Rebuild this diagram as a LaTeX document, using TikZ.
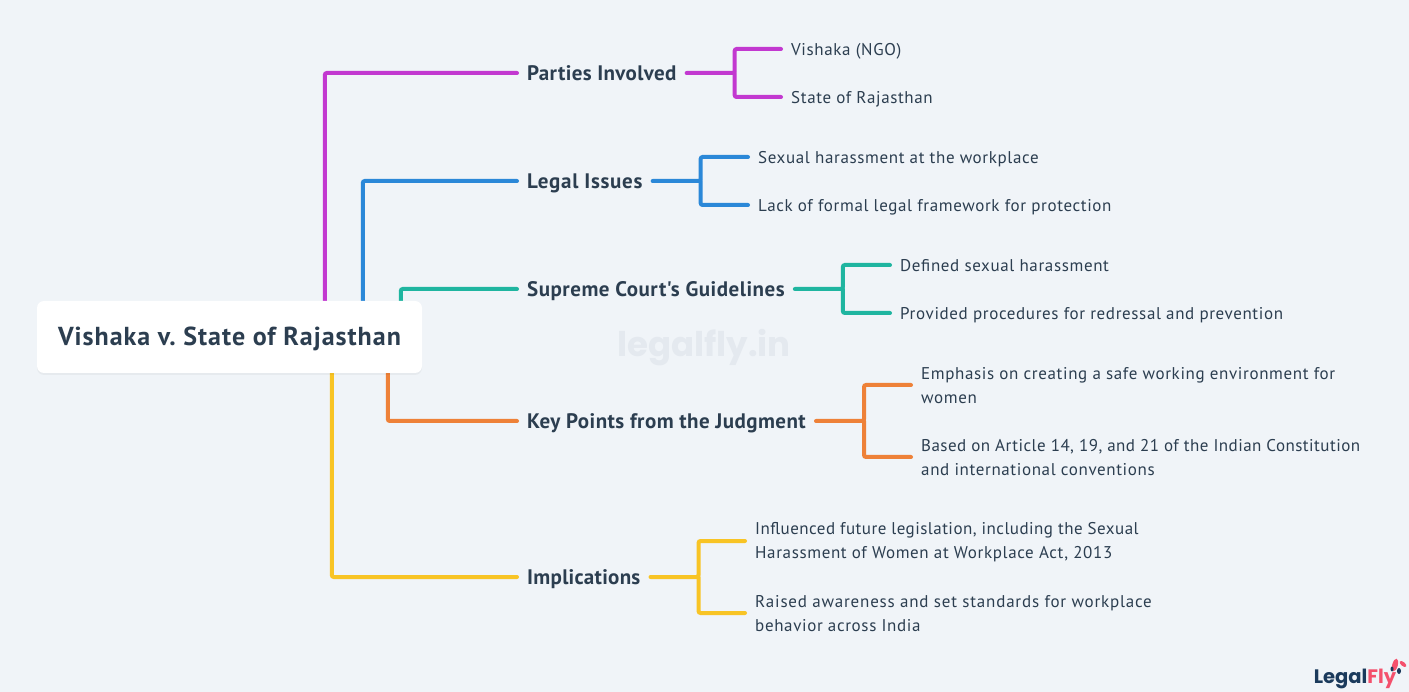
\documentclass[tikz,border=0pt]{standalone}
\usepackage{fontspec}
\usepackage{xcolor}
\newfontfamily\leaffont{PT Sans}[LetterSpace=3.7]
\newfontfamily\branchfont{PT Sans}[LetterSpace=1.7]
\newfontfamily\rootfont{PT Sans}[LetterSpace=3.8]
\newfontfamily\logofont{Poppins}
\usetikzlibrary{backgrounds,shadows}
\definecolor{pagebg}{HTML}{F0F4F8}
\definecolor{inkcol}{HTML}{2C3E50}
\definecolor{partiescol}{HTML}{C238D0}
\definecolor{legalcol}{HTML}{2B88D8}
\definecolor{courtcol}{HTML}{1FB5A0}
\definecolor{pointscol}{HTML}{EE8138}
\definecolor{effectscol}{HTML}{F8C425}
\definecolor{markcol}{HTML}{E4E9EF}
\definecolor{logoblue}{HTML}{1B3A5C}
\definecolor{logored}{HTML}{F4506C}
\tikzset{
  rootbox/.style={rectangle, rounded corners=7pt, fill=white, text=inkcol, inner sep=0pt, minimum width=385pt, minimum height=72pt, text height=22pt, text depth=4pt, font=\rootfont\fontsize{26}{30}\selectfont\bfseries, general shadow={fill=black, opacity=0.04, shadow yshift=-2pt}},
  branchbox/.style={rectangle, anchor=west, inner xsep=10pt, inner ysep=0pt, text=inkcol, text height=18pt, text depth=3pt, font=\branchfont\fontsize{21}{24}\selectfont\bfseries},
  leafbox/.style={rectangle, anchor=west, inner xsep=10pt, inner ysep=0pt, text=inkcol, text height=17pt, text depth=3pt, font=\leaffont\fontsize{17}{24}\selectfont},
  wrapbox/.style={rectangle, anchor=west, inner xsep=10pt, inner ysep=0pt, text=inkcol, align=left, font=\leaffont\fontsize{17}{24}\selectfont},
  mapline/.style={line width=4pt, line cap=round, rounded corners=2pt},
}
\newcommand{\firstline}{\rule{0pt}{13.5pt}}
\newcommand{\tracked}[2]{{\addfontfeature{LetterSpace=#1}#2}}
\frenchspacing
\begin{document}
\begin{tikzpicture}[x=1pt,y=-1pt]
  \useasboundingbox (0,0) rectangle (1409,692);
  \begin{pgfonlayer}{background}
    \fill [pagebg] (0,0) rectangle (1409,692);
  \end{pgfonlayer}

  \node (mark) at (704,348) [text=markcol, font=\logofont\fontsize{34}{40}\selectfont\bfseries] {legalfly.in};

  \node (root) at (229.5,337) [rootbox] {\frenchspacing Vishaka v. State of Rajasthan};

  \node (parties) at (517,73) [branchbox] {Parties Involved};
  \node (legal) at (517,181) [branchbox] {\tracked{3.3}{Legal Issues}};
  \node (court) at (517,289) [branchbox] {\tracked{2.4}{Supreme Court's Guidelines}};
  \node (points) at (517,421) [branchbox] {\tracked{2.1}{Key Points from the Judgment}};
  \node (effects) at (517,577) [branchbox] {\tracked{1.3}{Implications}};

  \node (vishaka) at (781,49) [leafbox] {Vishaka (NGO)};
  \node (state) at (781,97) [leafbox] {State of Rajasthan};
  \node (harass) at (748,157) [leafbox] {Sexual harassment at the workplace};
  \node (lack) at (748,205) [leafbox] {Lack of formal legal framework for protection};
  \node (defined) at (890,265) [leafbox] {Defined sexual harassment};
  \node (procs) at (890,313) [leafbox] {Provided procedures for redressal and prevention};
  \node (safe) at (911,385) [wrapbox] {\firstline Emphasis on creating a safe working environment for\\women};
  \node (article) at (911,457) [wrapbox] {\firstline\tracked{2.7}{Based on Article 14, 19, and 21 of the Indian Constitution}\\and international conventions};
  \node (future) at (745,541) [wrapbox] {\firstline\tracked{2.7}{Influenced future legislation, including the Sexual}\\Harassment of Women at Workplace Act, 2013};
  \node (aware) at (745,613) [wrapbox] {\firstline\tracked{4.7}{Raised awareness and set standards for workplace}\\behavior across India};

  \begin{pgfonlayer}{background}
    \draw [mapline, partiescol] (root.north west) ++(288,0) |- (parties.west);
    \draw [mapline, legalcol] (root.north west) ++(326,0) |- (legal.west);
    \draw [mapline, courtcol] (root.north west) ++(364,0) |- (court.west);
    \draw [mapline, pointscol] (root.south west) ++(351,0) |- (points.west);
    \draw [mapline, effectscol] (root.south west) ++(295,0) |- (effects.west);
  \end{pgfonlayer}

  \draw [mapline, partiescol] (parties.east) -- ++(48,0) coordinate (p1) |- (vishaka.west);
  \draw [mapline, partiescol] (p1) |- (state.west);
  \draw [mapline, legalcol] (legal.east) -- ++(48,0) coordinate (p2) |- (harass.west);
  \draw [mapline, legalcol] (p2) |- (lack.west);
  \draw [mapline, courtcol] (court.east) -- ++(48,0) coordinate (p3) |- (defined.west);
  \draw [mapline, courtcol] (p3) |- (procs.west);
  \draw [mapline, pointscol] (points.east) -- ++(48,0) coordinate (p4) |- (safe.west);
  \draw [mapline, pointscol] (p4) |- (article.west);
  \draw [mapline, effectscol] (effects.east) -- ++(48,0) coordinate (p5) |- (future.west);
  \draw [mapline, effectscol] (p5) |- (aware.west);

  % logo
  \node (logo) at (1355,679) [font=\logofont\fontsize{19.5}{24}\selectfont\bfseries, inner sep=0pt] {\textcolor{logoblue}{Legal}\textcolor{logored}{Fly}};
  \fill [logored, rotate around={-15:(1395,665)}] (1395,665) ellipse (2.8pt and 6.5pt);
  \fill [logored, rotate around={50:(1403,664)}] (1403,664) ellipse (2pt and 4pt);
  \fill [logoblue] (1399,671) ellipse (2pt and 3pt);
  \fill [logoblue] (1392,669) ellipse (1.5pt and 2.5pt);
\end{tikzpicture}
\end{document}
